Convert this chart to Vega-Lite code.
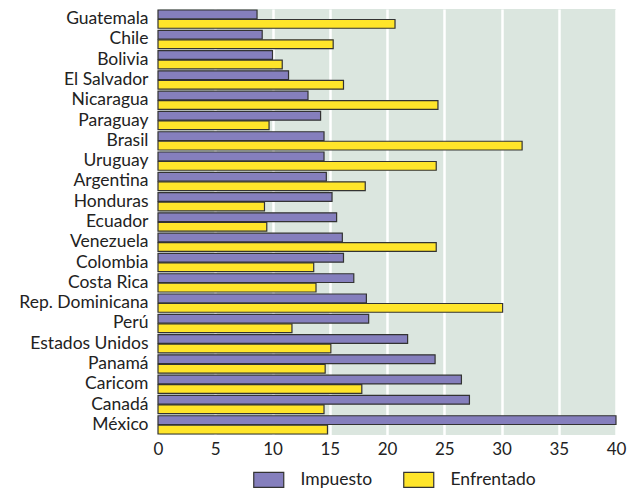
{
  "$schema": "https://vega.github.io/schema/vega-lite/v6.json",
  "autosize": {"type": "none"},
  "padding": {"left": 158, "top": 9, "right": 17, "bottom": 58},
  "width": 458,
  "height": 426,
  "background": "white",
  "config": {
    "font": "Lato",
    "view": {"fill": "#dbe6df", "stroke": null},
    "axis": {"labelColor": "#222222", "domain": false, "ticks": false}
  },
  "data": {
    "values": [
      {"pais": "Guatemala", "serie": "Impuesto", "valor": 8.65},
      {"pais": "Guatemala", "serie": "Enfrentado", "valor": 20.7},
      {"pais": "Chile", "serie": "Impuesto", "valor": 9.1},
      {"pais": "Chile", "serie": "Enfrentado", "valor": 15.3},
      {"pais": "Bolivia", "serie": "Impuesto", "valor": 10.0},
      {"pais": "Bolivia", "serie": "Enfrentado", "valor": 10.85},
      {"pais": "El Salvador", "serie": "Impuesto", "valor": 11.4},
      {"pais": "El Salvador", "serie": "Enfrentado", "valor": 16.2},
      {"pais": "Nicaragua", "serie": "Impuesto", "valor": 13.1},
      {"pais": "Nicaragua", "serie": "Enfrentado", "valor": 24.45},
      {"pais": "Paraguay", "serie": "Impuesto", "valor": 14.2},
      {"pais": "Paraguay", "serie": "Enfrentado", "valor": 9.7},
      {"pais": "Brasil", "serie": "Impuesto", "valor": 14.5},
      {"pais": "Brasil", "serie": "Enfrentado", "valor": 31.8},
      {"pais": "Uruguay", "serie": "Impuesto", "valor": 14.5},
      {"pais": "Uruguay", "serie": "Enfrentado", "valor": 24.3},
      {"pais": "Argentina", "serie": "Impuesto", "valor": 14.7},
      {"pais": "Argentina", "serie": "Enfrentado", "valor": 18.1},
      {"pais": "Honduras", "serie": "Impuesto", "valor": 15.2},
      {"pais": "Honduras", "serie": "Enfrentado", "valor": 9.3},
      {"pais": "Ecuador", "serie": "Impuesto", "valor": 15.6},
      {"pais": "Ecuador", "serie": "Enfrentado", "valor": 9.5},
      {"pais": "Venezuela", "serie": "Impuesto", "valor": 16.1},
      {"pais": "Venezuela", "serie": "Enfrentado", "valor": 24.3},
      {"pais": "Colombia", "serie": "Impuesto", "valor": 16.2},
      {"pais": "Colombia", "serie": "Enfrentado", "valor": 13.6},
      {"pais": "Costa Rica", "serie": "Impuesto", "valor": 17.1},
      {"pais": "Costa Rica", "serie": "Enfrentado", "valor": 13.8},
      {"pais": "Rep. Dominicana", "serie": "Impuesto", "valor": 18.2},
      {"pais": "Rep. Dominicana", "serie": "Enfrentado", "valor": 30.1},
      {"pais": "Perú", "serie": "Impuesto", "valor": 18.4},
      {"pais": "Perú", "serie": "Enfrentado", "valor": 11.7},
      {"pais": "Estados Unidos", "serie": "Impuesto", "valor": 21.8},
      {"pais": "Estados Unidos", "serie": "Enfrentado", "valor": 15.1},
      {"pais": "Panamá", "serie": "Impuesto", "valor": 24.2},
      {"pais": "Panamá", "serie": "Enfrentado", "valor": 14.6},
      {"pais": "Caricom", "serie": "Impuesto", "valor": 26.5},
      {"pais": "Caricom", "serie": "Enfrentado", "valor": 17.8},
      {"pais": "Canadá", "serie": "Impuesto", "valor": 27.2},
      {"pais": "Canadá", "serie": "Enfrentado", "valor": 14.5},
      {"pais": "México", "serie": "Impuesto", "valor": 40.0},
      {"pais": "México", "serie": "Enfrentado", "valor": 14.8}
    ]
  },
  "mark": {"type": "bar", "stroke": "#333333", "strokeWidth": 1.2},
  "encoding": {
    "y": {
      "field": "pais",
      "type": "nominal",
      "sort": null,
      "title": null,
      "scale": {"paddingInner": 0.1, "paddingOuter": 0.05},
      "axis": {"labelFontSize": 17.5, "labelPadding": 10, "grid": false, "labelBaseline": "middle"}
    },
    "yOffset": {
      "field": "serie",
      "type": "nominal",
      "sort": ["Impuesto", "Enfrentado"],
      "scale": {"paddingInner": 0.08}
    },
    "x": {
      "field": "valor",
      "type": "quantitative",
      "title": null,
      "scale": {"domain": [0, 40], "nice": false},
      "axis": {
        "values": [0, 5, 10, 15, 20, 25, 30, 35, 40],
        "labelFontSize": 17,
        "labelPadding": 6,
        "grid": true,
        "gridColor": "white",
        "gridWidth": 2.5,
        "labelFlush": false
      }
    },
    "color": {
      "field": "serie",
      "type": "nominal",
      "title": null,
      "scale": {"domain": ["Impuesto", "Enfrentado"], "range": ["#857fbd", "#ffe52a"]},
      "legend": {
        "orient": "none",
        "legendX": 102,
        "legendY": 462,
        "direction": "horizontal",
        "symbolType": "M-2,-1H2V1H-2Z",
        "symbolSize": 225,
        "symbolStrokeColor": "#333333",
        "symbolStrokeWidth": 1.2,
        "symbolOpacity": 1,
        "labelFontSize": 17.5,
        "labelColor": "#222222",
        "labelOffset": 23,
        "columnPadding": 28
      }
    }
  }
}
